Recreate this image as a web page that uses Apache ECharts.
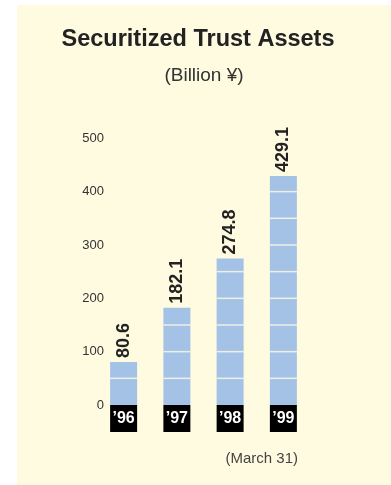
<!DOCTYPE html>
<html><head><meta charset="utf-8">
<script src="https://cdn.jsdelivr.net/npm/echarts@6/dist/echarts.min.js"></script>
<style>html,body{margin:0;padding:0;background:#fff;}#c{width:391px;height:485px;}</style>
</head><body><div id="c"></div>
<script>
const categories = ["\u201996", "\u201997", "\u201998", "\u201999"];
const values = [80.6, 182.1, 274.8, 429.1];
const yTicks = [0, 100, 200, 300, 400, 500];
const segmentStep = 50;
const titleText = "Securitized Trust Assets";
const subtitleText = "(Billion \u00a5)";
const footText = "(March 31)";

const chart = echarts.init(document.getElementById('c'), null, {renderer: 'canvas'});
const FONT = 'Liberation Sans, Arial, Helvetica, sans-serif';
chart.setOption({
  animation: false,
  graphic: [
    {type: 'rect', shape: {x: 17, y: 5, width: 374, height: 480}, style: {fill: '#fffbe1'}, z: -10, silent: true},
    {type: 'text', x: 198, y: 40, style: {text: titleText, fontFamily: FONT, fontSize: 23.5, fontWeight: 'bold', fill: '#222', align: 'center', verticalAlign: 'middle'}},
    {type: 'text', x: 204, y: 76, style: {text: subtitleText, fontFamily: FONT, fontSize: 19, fill: '#333', align: 'center', verticalAlign: 'middle'}},
    {type: 'text', x: 298, y: 459, style: {text: footText, fontFamily: FONT, fontSize: 15, fill: '#444', align: 'right', verticalAlign: 'middle'}}
  ],
  grid: {left: 97, right: 81, top: 138.3, bottom: 80, containLabel: false},
  xAxis: {
    type: 'category', data: categories,
    axisLine: {show: false}, axisTick: {show: false}, splitLine: {show: false},
    axisLabel: {
      margin: 0, color: '#fff', fontFamily: FONT, fontSize: 16, fontWeight: 'bold',
      backgroundColor: '#000', width: 27, height: 27, lineHeight: 27, align: 'center', verticalAlign: 'top', padding: 0
    }
  },
  yAxis: {
    type: 'value', min: yTicks[0], max: yTicks[yTicks.length - 1], interval: yTicks[1] - yTicks[0],
    offset: -7,
    axisLine: {show: false}, axisTick: {show: false}, splitLine: {show: false},
    axisLabel: {margin: 0, color: '#333', fontFamily: FONT, fontSize: 13}
  },
  series: [
    {
      type: 'bar', data: values, barWidth: 27,
      itemStyle: {color: '#a3c2e6'},
      label: {
        show: true, position: 'top', rotate: 90, distance: 4, align: 'left', verticalAlign: 'middle',
        fontFamily: FONT, fontSize: 18, fontWeight: 'bold', color: '#222',
        formatter: p => p.value.toFixed(1)
      },
      z: 2
    },
    {
      type: 'custom', z: 3, silent: true,
      data: values.map((v, i) => [i, v]),
      encode: {x: 0, y: 1},
      renderItem: function (params, api) {
        const idx = api.value(0), v = api.value(1);
        const children = [];
        for (let k = segmentStep; k < v; k += segmentStep) {
          const p = api.coord([idx, k]);
          children.push({type: 'line', shape: {x1: p[0] - 13.5, y1: p[1], x2: p[0] + 13.5, y2: p[1]}, style: {stroke: '#eef0e8', lineWidth: 1.5}});
        }
        return {type: 'group', children: children};
      }
    }
  ]
});
</script></body></html>
